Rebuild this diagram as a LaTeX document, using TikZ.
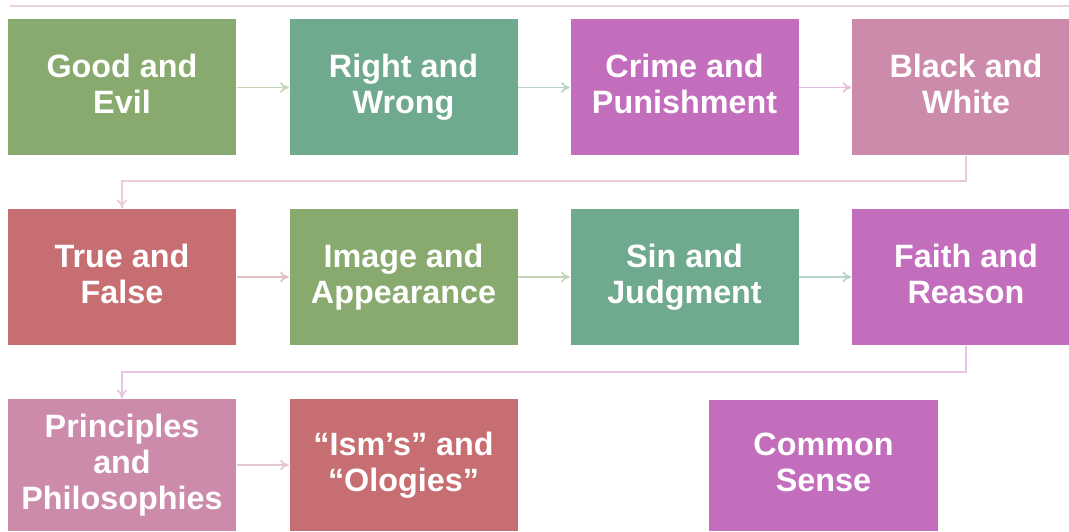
\documentclass[tikz,border=0pt]{standalone}
\usepackage{fontspec}
\setmainfont{Liberation Sans}
\usetikzlibrary{arrows.meta}
\definecolor{leaf}{HTML}{88AA6E}
\definecolor{sea}{HTML}{6FAA8E}
\definecolor{orchid}{HTML}{C36DBD}
\definecolor{rose}{HTML}{CD8BAB}
\definecolor{brick}{HTML}{C66E72}
\newcommand\boxstrut{\rule[-2pt]{0pt}{10.6pt}}
\begin{document}
\begin{tikzpicture}[box/.style={minimum width=2.28cm,minimum height=1.36cm,inner sep=0pt,align=center,text=white,font=\fontsize{9.2}{10.3}\selectfont\bfseries,execute at begin node=\boxstrut,execute at end node=\boxstrut},
  link/.style={-{To[length=2.5pt,width=3pt]},line width=0.5pt}]
   \useasboundingbox (0,0) rectangle (10.69,5.31); \clip (0,0) rectangle (10.69,5.31);
   \draw[rose!40,line width=0.6pt] (0.1,5.25)--(10.69,5.25);
   % first row
   \node (good) at (1.22,4.435) [box,fill=leaf] {Good and\\Evil}; \node (right) at (4.035,4.435) [box,fill=sea] {Right and\\Wrong};
   \node (crime) at (6.845,4.435) [box,fill=orchid] {Crime and\\Punishment}; \node (black) at (9.66,4.435) [box,fill=rose] {Black and\\White};
   % second row
   \node (true) at (1.22,2.54) [box,fill=brick] {True and\\False}; \node (image) at (4.035,2.54) [box,fill=leaf] {Image and\\Appearance};
   \node (sin) at (6.845,2.54) [box,fill=sea] {Sin and\\Judgment}; \node (faith) at (9.66,2.54) [box,fill=orchid] {Faith and\\Reason};
   % third row
   \node (princ) at (1.22,0.66) [box,fill=rose,minimum height=1.32cm] {Principles\\and\\Philosophies}; \node (isms) at (4.035,0.66) [box,fill=brick,minimum height=1.32cm] {``Ism's'' and\\``Ologies''};
   \node (common) at (8.235,0.655) [box,fill=orchid,minimum width=2.29cm,minimum height=1.31cm] {Common\\Sense};
   \draw[link,leaf!50] (good)--(right); \draw[link,sea!50] (right)--(crime); \draw[link,orchid!45] (crime)--(black);
   \draw[link,brick!45] (true)--(image); \draw[link,leaf!50] (image)--(sin); \draw[link,sea!50] (sin)--(faith);
   \draw[link,rose!50] (princ)--(isms);
   \draw[link,rose!45] (black.south) |- (5,3.5) -| (true.north); \draw[link,orchid!40] (faith.south) |- (5,1.59) -| (princ.north);
\end{tikzpicture}
\end{document}
